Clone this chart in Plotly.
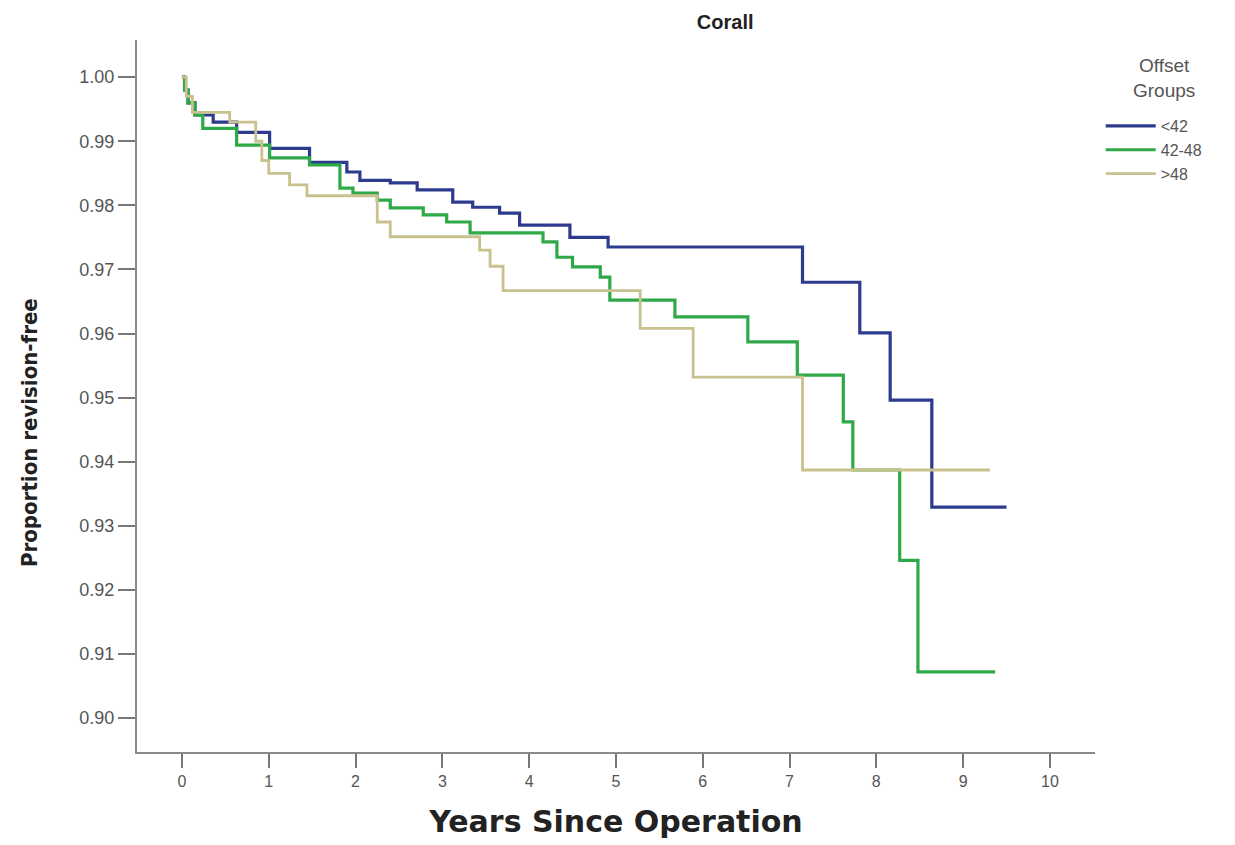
import plotly.graph_objects as go

# Offset group <42
t_lt42 = [0, 0.03, 0.07, 0.15, 0.36, 0.63, 1.01, 1.47, 1.90, 2.05, 2.40, 2.71, 3.12, 3.35, 3.66, 3.89, 4.47, 4.91, 7.15, 7.81, 8.16, 8.64, 9.50]
s_lt42 = [1.000, 0.998, 0.996, 0.9941, 0.9930, 0.9914, 0.9889, 0.9867, 0.9852, 0.9839, 0.9835, 0.9824, 0.9805, 0.9797, 0.9788, 0.9769, 0.9750, 0.9735, 0.9680, 0.9601, 0.9496, 0.9329, 0.9329]

# Offset group 42-48
t_4248 = [0, 0.03, 0.07, 0.15, 0.24, 0.63, 1.01, 1.47, 1.82, 1.97, 2.25, 2.40, 2.78, 3.05, 3.32, 4.16, 4.32, 4.50, 4.82, 4.93, 5.68, 6.52, 7.09, 7.62, 7.73, 8.27, 8.48, 9.37]
s_4248 = [1.000, 0.998, 0.996, 0.9941, 0.9920, 0.9894, 0.9874, 0.9863, 0.9827, 0.9819, 0.9808, 0.9796, 0.9785, 0.9774, 0.9757, 0.9743, 0.9719, 0.9704, 0.9688, 0.9652, 0.9626, 0.9587, 0.9535, 0.9462, 0.9387, 0.9246, 0.9072, 0.9072]

# Offset group >48
t_gt48 = [0, 0.05, 0.12, 0.55, 0.85, 0.92, 1.00, 1.24, 1.44, 2.25, 2.40, 3.43, 3.55, 3.70, 5.28, 5.89, 7.15, 9.31]
s_gt48 = [1.000, 0.997, 0.9945, 0.9930, 0.9900, 0.9870, 0.9850, 0.9832, 0.9815, 0.9774, 0.9751, 0.9730, 0.9705, 0.9667, 0.9608, 0.9532, 0.9387, 0.9387]

group_names = ["<42", "42-48", ">48"]
group_colors = ["#2d3b8e", "#2fa848", "#c9c18e"]

x_ticks = list(range(0, 11))
y_ticks = [0.90, 0.91, 0.92, 0.93, 0.94, 0.95, 0.96, 0.97, 0.98, 0.99, 1.00]
y_ticklabels = ["0.90", "0.91", "0.92", "0.93", "0.94", "0.95", "0.96", "0.97", "0.98", "0.99", "1.00"]

fig = go.Figure()
for t, s, name, col, w in [
    (t_lt42, s_lt42, group_names[0], group_colors[0], 3.2),
    (t_4248, s_4248, group_names[1], group_colors[1], 3.2),
    (t_gt48, s_gt48, group_names[2], group_colors[2], 2.8),
]:
    fig.add_trace(go.Scatter(x=t, y=s, mode="lines", name=name,
                             line=dict(color=col, width=w, shape="hv")))

fig.update_layout(
    width=1235, height=845,
    margin=dict(l=137, r=140, t=40, b=93),
    paper_bgcolor="white", plot_bgcolor="white",
    title=dict(text="<b>Corall</b>", x=0.614, xref="paper", xanchor="center",
               y=0.974, yref="container", yanchor="middle",
               font=dict(family="Liberation Sans, Arial, sans-serif", size=20, color="#222")),
    showlegend=True,
    legend=dict(x=1.006, y=0.903, xanchor="left", yanchor="top",
                font=dict(family="Liberation Sans, Arial, sans-serif", size=16, color="#555"),
                itemwidth=50, tracegroupgap=0, bgcolor="rgba(0,0,0,0)"),
    xaxis=dict(range=[-0.518, 10.52], tickvals=x_ticks, ticktext=[str(v) for v in x_ticks],
               showgrid=False, zeroline=False, showline=True, linecolor="#8a8a8a", linewidth=2,
               ticks="outside", ticklen=14, tickwidth=2, tickcolor="#777",
               tickfont=dict(family="Liberation Sans, Arial, sans-serif", size=16, color="#555"),
               title=dict(text="<b>Years Since Operation</b>", standoff=22,
                          font=dict(family="DejaVu Sans, sans-serif", size=30, color="#222"))),
    yaxis=dict(range=[0.8947, 1.0058], tickvals=y_ticks, ticktext=y_ticklabels,
               showgrid=False, zeroline=False, showline=True, linecolor="#8a8a8a", linewidth=2,
               ticks="outside", ticklen=17, tickwidth=2, tickcolor="#777",
               tickfont=dict(family="Liberation Sans, Arial, sans-serif", size=18, color="#555")),
    annotations=[
        dict(text="<b>Proportion revision-free</b>", textangle=-90,
             x=-0.112, y=0.449, xref="paper", yref="paper",
             xanchor="center", yanchor="middle", showarrow=False,
             font=dict(family="Liberation Sans Narrow, DejaVu Sans Condensed, Liberation Sans, sans-serif",
                       size=22, color="#222")),
        dict(text="Offset<br>Groups", x=1.072, y=0.946, xref="paper", yref="paper",
             xanchor="center", yanchor="middle", showarrow=False, align="center",
             font=dict(family="Liberation Sans, Arial, sans-serif", size=19, color="#555")),
    ],
)

fig.write_html("out.html")
